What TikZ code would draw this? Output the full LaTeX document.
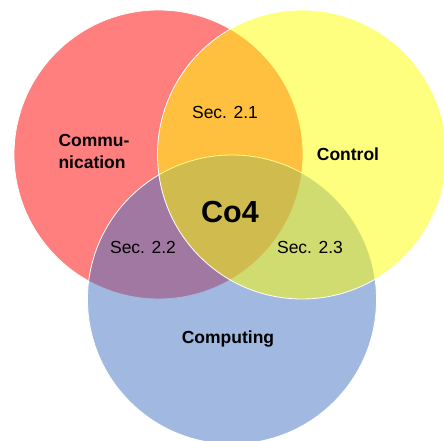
\documentclass[tikz,border=0pt]{standalone}
\usepackage{fontspec}
\setmainfont{Liberation Sans}
\definecolor{commred}{HTML}{FF0000}
\definecolor{ctrlyellow}{HTML}{FFFF00}
\definecolor{compblue}{HTML}{4472C4}
\tikzset{
  setdisc/.style={draw=white, line width=0.8pt, fill opacity=0.5},
  areaname/.style={font=\bfseries\fontsize{17.5}{22}\selectfont},
  seclabel/.style={font=\fontsize{17.5}{22}\selectfont},
}
\begin{document}
\begin{tikzpicture}[x=1pt,y=-1pt]
\useasboundingbox (0,0) rectangle (444,441);
\clip (0,0) rectangle (444,441);

% the three sets
\draw[setdisc, fill=commred] (158.5,154.5) circle [radius=144.5];
\draw[setdisc, fill=compblue] (232,299.5) circle [radius=144.5];
\draw[setdisc, fill=ctrlyellow] (302,154.5) circle [radius=144.5];

\node[areaname, align=left, anchor=west] (comm) at (55,151) {Commu-\\nication};
\node[areaname] (ctrl) at (348,154) {Control};
\node[areaname] (comp) at (228,339) {Computing};

\node[seclabel] (s21) at (225,112) {Sec. 2.1};
\node[seclabel] (s22) at (143,247) {Sec. 2.2};
\node[seclabel] (s23) at (310,247) {Sec. 2.3};

\node[font=\bfseries\fontsize{30.5}{36}\selectfont] (core) at (230,212) {Co4};
\end{tikzpicture}
\end{document}
